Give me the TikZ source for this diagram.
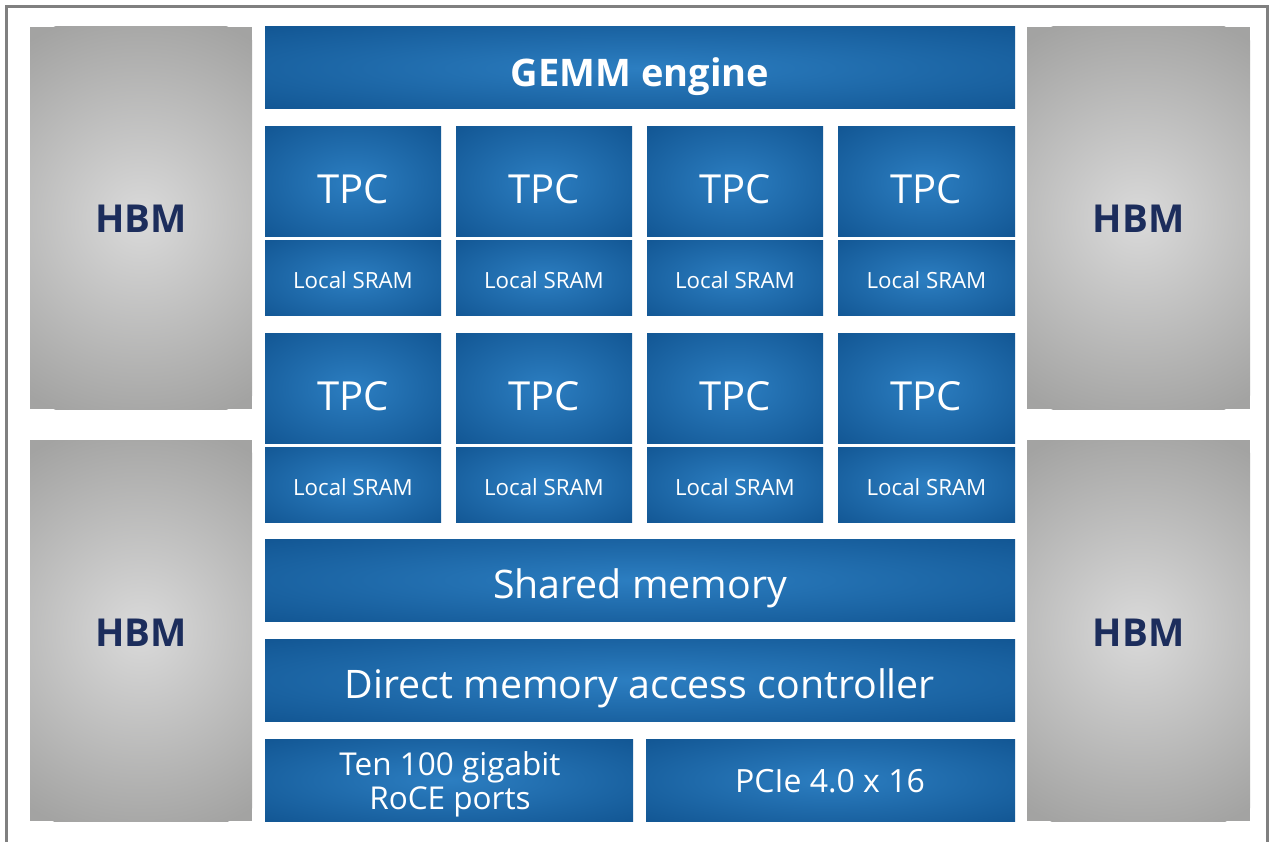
\documentclass[tikz,border=0pt]{standalone}
\usepackage{fontspec}
\setmainfont{Open Sans}
\definecolor{bluein}{HTML}{2C7EC1}
\definecolor{blueout}{HTML}{0C4D89}
\definecolor{grayin}{HTML}{DADADA}
\definecolor{grayout}{HTML}{A3A3A2}
\definecolor{navy}{HTML}{1C2D5C}
\definecolor{frame}{HTML}{808080}
\tikzset{
  blueshade/.style={inner color=bluein, outer color=blueout},
  grayshade/.style={inner color=grayin, outer color=grayout},
  wtext/.style={text=white, anchor=base, inner sep=0pt},
  hbmtext/.style={text=navy, anchor=base, inner sep=0pt, font=\fontsize{38.5}{44}\selectfont\bfseries},
}
% blue block with elliptical gradient reaching the edges
\newcommand{\bluerect}[4]{%
  \begin{scope}
    \clip (#1,#2) rectangle (#3,#4);
    \shade[blueshade] ({#1-(#3-#1)*0.38},{#2-(#4-#2)*0.38}) rectangle ({#3+(#3-#1)*0.38},{#4+(#4-#2)*0.38});
  \end{scope}}
\begin{document}
\begin{tikzpicture}[x=1pt,y=-1pt]
\useasboundingbox (0,0) rectangle (1269,842);
\fill[white] (0,0) rectangle (1269,842);
\draw[frame, line width=2.5pt] (6.5,842) -- (6.5,6.5) -- (1267.5,6.5) -- (1267.5,842);
% HBM blocks
\foreach \nm/\xa/\ya/\xb/\yb/\bl in {h1/30/27/252/409/233, h2/30/440/252/821/646, h3/1027/27/1250/409/233, h4/1027/440/1250/821/646}{
  \fill[grayout] (\xa,\ya) rectangle (\xb,\yb);
  \begin{scope}
    \clip (\xa,\ya) rectangle (\xb,\yb);
    \shade[grayshade] ({(\xa+\xb)/2},{(\ya+\yb)/2}) circle (210);
  \end{scope}
  \node[hbmtext] (\nm) at ({(\xa+\xb)/2},\bl) {HBM};
}
% GEMM
\bluerect{265}{27}{1015}{109}
\node[wtext, font=\fontsize{38}{44}\selectfont\bfseries] (gemm) at (640,87) {GEMM engine};
% TPC grid
\foreach \r/\ya/\yb/\yc/\tb/\sb in {1/127/237/316/204/289, 2/333/443/522/410/495}{
  \foreach \c/\xa/\xb in {1/265/441, 2/456/632, 3/647/823, 4/838/1015}{
    \bluerect{\xa}{\ya}{\xb}{\yb}
    \bluerect{\xa}{\yb+4}{\xb}{\yc}
    \node[wtext, font=\fontsize{40}{46}\selectfont] (tpc\r\c) at ({(\xa+\xb)/2},\tb) {TPC};
    \node[wtext, font=\fontsize{22.3}{26}\selectfont] (sram\r\c) at ({(\xa+\xb)/2},\sb) {Local SRAM};
  }
}
% Shared memory
\bluerect{265}{539}{1015}{621}
\node[wtext, font=\fontsize{39.3}{46}\selectfont] (shared) at (640,598) {Shared memory};
% DMA
\bluerect{265}{639}{1015}{721}
\node[wtext, font=\fontsize{39.3}{46}\selectfont] (dma) at (640,698) {Direct memory access controller};
% bottom
\bluerect{265}{739}{633}{821}
\node[text=white, align=center, inner sep=0pt, font=\fontsize{31.5}{34}\selectfont] (roce) at (450,784) {Ten 100 gigabit\\RoCE ports};
\bluerect{646}{739}{1015}{821}
\node[wtext, font=\fontsize{32}{36}\selectfont] (pcie) at (830,792) {PCIe 4.0 x 16};
\end{tikzpicture}
\end{document}
